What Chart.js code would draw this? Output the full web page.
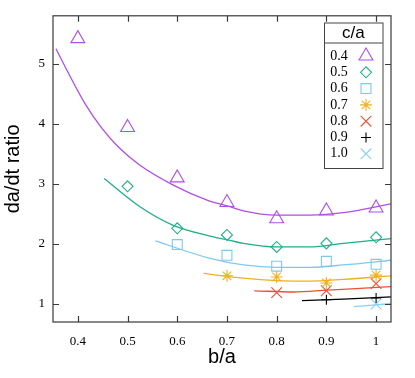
<!DOCTYPE html>
<html>
<head>
<meta charset="utf-8">
<script src="https://cdn.jsdelivr.net/npm/chart.js@4/dist/chart.umd.min.js"></script>
<style>
  html, body { margin: 0; padding: 0; background: #fff; }
  #wrap { width: 415px; height: 378px; }
</style>
</head>
<body>
<div id="wrap"><canvas class="js-chart"></canvas></div>
<script>
const ctx = document.querySelector('.js-chart').getContext('2d');

// series labels (c/a)
const ratios = ['0.4', '0.5', '0.6', '0.7', '0.8', '0.9', '1.0'];
const colors = ['#b04ee8', '#1fae8a', '#7ec8f0', '#f0b020', '#f05030', '#000000', '#88d0f4'];

// measured points, b/a -> da/dt ratio
const xs04 = [0.4, 0.5, 0.6, 0.7, 0.8, 0.9, 1.0];
const ys04 = [5.42, 3.94, 3.10, 2.69, 2.42, 2.55, 2.60];
const xs05 = [0.5, 0.6, 0.7, 0.8, 0.9, 1.0];
const ys05 = [2.96, 2.26, 2.15, 1.95, 2.01, 2.11];
const xs06 = [0.6, 0.7, 0.8, 0.9, 1.0];
const ys06 = [1.99, 1.81, 1.63, 1.71, 1.66];
const xs07 = [0.7, 0.8, 0.9, 1.0];
const ys07 = [1.47, 1.45, 1.35, 1.48];
const xs08 = [0.8, 0.9, 1.0];
const ys08 = [1.19, 1.22, 1.34];
const xs09 = [0.9, 1.0];
const ys09 = [1.07, 1.10];
const xs10 = [1.0];
const ys10 = [1.00];

// fitted curves
const fitX04 = [0.356, 0.382, 0.415, 0.449, 0.482, 0.525, 0.592, 0.660, 0.706, 0.733, 0.800, 0.867, 0.934, 1.032];
const fitY04 = [5.25, 4.83, 4.33, 3.92, 3.61, 3.31, 2.98, 2.73, 2.62, 2.55, 2.48, 2.48, 2.52, 2.67];
const fitX05 = [0.453, 0.525, 0.592, 0.666, 0.706, 0.733, 0.800, 0.867, 0.934, 1.032];
const fitY05 = [3.09, 2.62, 2.31, 2.13, 2.06, 2.01, 1.95, 1.95, 2.01, 2.09];
const fitX06 = [0.556, 0.666, 0.733, 0.800, 0.867, 0.934, 1.032];
const fitY06 = [2.05, 1.76, 1.65, 1.61, 1.61, 1.65, 1.73];
const fitX07 = [0.653, 0.733, 0.800, 0.867, 0.934, 1.032];
const fitY07 = [1.51, 1.43, 1.39, 1.38, 1.41, 1.47];
const fitX08 = [0.755, 0.834, 0.901, 0.968, 1.032];
const fitY08 = [1.22, 1.20, 1.23, 1.26, 1.29];
const fitX09 = [0.851, 0.934, 1.032];
const fitY09 = [1.055, 1.08, 1.12];
const fitX10 = [0.955, 1.032];
const fitY10 = [0.955, 1.01];

// axes
const xTicks = [0.4, 0.5, 0.6, 0.7, 0.8, 0.9, 1.0];
const xTickLabels = ['0.4', '0.5', '0.6', '0.7', '0.8', '0.9', '1'];
const yTicks = [1, 2, 3, 4, 5];
const yTickLabels = ['1', '2', '3', '4', '5'];

const markers = [
    { style: 'triangle', radius: 8 },
    { style: 'rectRot', radius: 5.5 },
    { style: 'rect', radius: 7 },
    { style: 'star', radius: 6 },
    { style: 'crossRot', radius: 7.5 },
    { style: 'cross', radius: 5 },
    { style: 'crossRot', radius: 7.5 },
];

const pointSets = [[xs04, ys04], [xs05, ys05], [xs06, ys06], [xs07, ys07], [xs08, ys08], [xs09, ys09], [xs10, ys10]];
const fitSets = [[fitX04, fitY04], [fitX05, fitY05], [fitX06, fitY06], [fitX07, fitY07], [fitX08, fitY08], [fitX09, fitY09], [fitX10, fitY10]];

const zip = (a, b) => a.map((x, i) => ({ x, y: b[i] }));

const datasets = [];
fitSets.forEach(([fx, fy], i) => {
    datasets.push({
        label: 'fit ' + ratios[i],
        data: zip(fx, fy),
        showLine: true,
        borderColor: colors[i],
        borderWidth: 1.3,
        pointRadius: 0,
        cubicInterpolationMode: 'monotone',
        fill: false,
    });
});
pointSets.forEach(([px, py], i) => {
    datasets.push({
        label: ratios[i],
        data: zip(px, py),
        showLine: false,
        pointStyle: markers[i].style,
        pointRadius: markers[i].radius,
        pointBorderColor: colors[i],
        pointBackgroundColor: 'rgba(0,0,0,0)',
        pointBorderWidth: 1.1,
    });
});

const SERIF = '"Liberation Serif", "DejaVu Serif", serif';
const SANS = '"Liberation Sans", Arial, sans-serif';

const frame = {
    id: 'frame',
    afterDraw(chart) {
        const { ctx: c, chartArea: a, scales } = chart;
        c.save();
        c.strokeStyle = '#3a3a3a';
        c.lineWidth = 1.2;
        c.strokeRect(a.left, a.top, a.right - a.left, a.bottom - a.top);
        const len = 6;
        c.beginPath();
        scales.x.ticks.forEach(t => {
            const px = Math.round(scales.x.getPixelForValue(t.value)) + 0.5;
            c.moveTo(px, a.bottom); c.lineTo(px, a.bottom - len);
            c.moveTo(px, a.top); c.lineTo(px, a.top + len);
        });
        scales.y.ticks.forEach(t => {
            const py = Math.round(scales.y.getPixelForValue(t.value)) + 0.5;
            c.moveTo(a.left, py); c.lineTo(a.left + len, py);
            c.moveTo(a.right, py); c.lineTo(a.right - len, py);
        });
        c.stroke();
        c.restore();
    },
};

const keyBox = {
    id: 'keyBox',
    afterDraw(chart) {
        const c = chart.ctx;
        const left = 324, top = 22.5, width = 58.5, headH = 20, rowH = 16.3;
        const height = 145.5;
        c.save();
        c.fillStyle = '#fff';
        c.fillRect(left, top, width, height);
        c.strokeStyle = '#444';
        c.lineWidth = 1;
        c.strokeRect(left + 0.5, top + 0.5, width, height);
        c.beginPath();
        c.moveTo(left, top + headH + 0.5);
        c.lineTo(left + width, top + headH + 0.5);
        c.stroke();

        c.fillStyle = '#000';
        c.textAlign = 'center';
        c.textBaseline = 'middle';
        c.font = '17px ' + SANS;
        c.fillText('c/a', left + width / 2, top + headH / 2 + 1);

        c.font = '14px ' + SERIF;
        ratios.forEach((r, i) => {
            const y = top + headH + 13.5 + i * rowH;
            c.fillStyle = '#000';
            c.textAlign = 'center';
            c.fillText(r, left + 15, y);
            c.strokeStyle = colors[i];
            c.fillStyle = 'rgba(0,0,0,0)';
            c.lineWidth = 1.1;
            Chart.helpers.drawPoint(c, {
                pointStyle: markers[i].style,
                radius: markers[i].radius,
                rotation: 0,
                borderWidth: 1.1,
            }, left + 42, y);
        });
        c.restore();
    },
};

new Chart(ctx, {
    type: 'scatter',
    data: { datasets },
    plugins: [frame, keyBox],
    options: {
        responsive: true,
        maintainAspectRatio: false,
        animation: false,
        layout: { padding: { top: 15, right: 24, left: 0, bottom: 0 } },
        plugins: { legend: { display: false }, tooltip: { enabled: false } },
        scales: {
            x: {
                type: 'linear',
                min: 0.35,
                max: 1.03,
                grid: { display: false, drawTicks: false },
                border: { display: false },
                afterBuildTicks(scale) {
                    scale.ticks = xTicks.map(value => ({ value }));
                },
                afterFit(scale) { scale.height = 56; },
                ticks: {
                    padding: 12,
                    color: '#000',
                    font: { family: SERIF, size: 13 },
                    callback(value) {
                        const i = xTicks.findIndex(t => Math.abs(t - value) < 1e-6);
                        return i >= 0 ? xTickLabels[i] : '';
                    },
                },
                title: {
                    display: true,
                    text: 'b/a',
                    color: '#000',
                    font: { family: SANS, size: 20 },
                    padding: { top: 0, bottom: 9 },
                },
            },
            y: {
                type: 'linear',
                min: 0.7,
                max: 5.8,
                grid: { display: false, drawTicks: false },
                border: { display: false },
                afterBuildTicks(scale) {
                    scale.ticks = yTicks.map(value => ({ value }));
                },
                afterFit(scale) { scale.width = 53; },
                ticks: {
                    padding: 8,
                    color: '#000',
                    font: { family: SERIF, size: 13 },
                    callback(value) {
                        const i = yTicks.findIndex(t => Math.abs(t - value) < 1e-6);
                        return i >= 0 ? yTickLabels[i] : '';
                    },
                },
                title: {
                    display: true,
                    text: 'da/dt ratio',
                    color: '#000',
                    font: { family: SANS, size: 20 },
                    padding: { top: 1, bottom: 0 },
                },
            },
        },
    },
});
</script>
</body>
</html>
